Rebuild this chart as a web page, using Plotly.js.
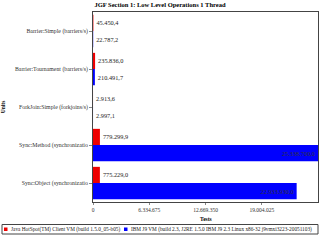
<!DOCTYPE html>
<html><head><meta charset="utf-8">
<script src="https://cdn.plot.ly/plotly-3.0.1.min.js"></script>
<style>html,body{margin:0;padding:0;background:#fff}#c{width:320px;height:240px}</style>
</head><body><div id="c"></div>
<script>
const categories = [
  "Barrier:Simple (barriers/s)",
  "Barrier:Tournament (barriers/s)",
  "ForkJoin:Simple (forkjoins/s)",
  "Sync:Method (synchronizatio",
  "Sync:Object (synchronizatio"
];
const seriesNames = [
  "Java HotSpot(TM) Client VM (build 1.5.0_05-b05)",
  "IBM J9 VM (build 2.3, J2RE 1.5.0 IBM J9 2.3 Linux x86-32 j9vmxi3223-20051103)"
];
const seriesColors = ['#ee0000', '#0000ff'];
const hotspot = [45450.4, 235836.0, 2913.6, 779299.9, 775229.0];
const ibm = [22787.2, 210491.7, 2997.1, 25338700.0, 22933930.0];
const tickValues = [0, 6334675, 12669350, 19004025];
const axisMax = 25338700;

const font = "'Liberation Serif', 'DejaVu Serif', serif";
const mk = (name, vals, color) => ({
  type: 'bar', orientation: 'h', name: name,
  y: categories, x: vals,
  marker: {color: color, line: {width: 0}},
  texttemplate: '%{x:,.1f}', textposition: 'auto',
  insidetextanchor: 'end', textangle: 0, constraintext: 'none',
  insidetextfont: {family: font, size: 6.3, color: '#333'},
  outsidetextfont: {family: font, size: 6.3, color: '#222'},
  cliponaxis: false, hoverinfo: 'none', showlegend: false
});
const data = [mk(seriesNames[0], hotspot, seriesColors[0]), mk(seriesNames[1], ibm, seriesColors[1])];

// plot area in pixels: x 93..318, y 12..202
const L = 93, R = 318, T = 12, B = 202;
const px = v => (v - L) / (R - L);
const py = v => (B - v) / (B - T);
const legendItems = [{sx: 4, tx: 9, size: 5.3}, {sx: 124, tx: 129, size: 5.3}];
const shapes = [{type: 'rect', xref: 'paper', yref: 'paper', x0: px(2), x1: px(318), y0: py(234), y1: py(224.5),
  line: {color: '#444', width: 1}, fillcolor: 'rgba(0,0,0,0)'}];
const annotations = [{xref: 'paper', yref: 'paper', x: px(205.5), y: py(219), xanchor: 'center', yanchor: 'middle',
  text: '<b>Tests</b>', showarrow: false, font: {family: font, size: 5.5, color: '#000'}}];
seriesNames.forEach((n, i) => {
  const it = legendItems[i];
  shapes.push({type: 'rect', xref: 'paper', yref: 'paper', x0: px(it.sx), x1: px(it.sx + 3.5), y0: py(231), y1: py(227.5),
    line: {width: 0}, fillcolor: seriesColors[i]});
  annotations.push({xref: 'paper', yref: 'paper', x: px(it.tx), y: py(229.3), xanchor: 'left', yanchor: 'middle',
    text: n, showarrow: false, font: {family: font, size: it.size, color: '#222'}});
});

const layout = {
  width: 320, height: 240,
  separators: ',.',
  margin: {l: L, r: 320 - R, t: T, b: 240 - B},
  paper_bgcolor: '#fff', plot_bgcolor: '#fff',
  font: {family: font, size: 5.5, color: '#222'},
  barmode: 'group', bargap: 0.15, bargroupgap: 0,
  title: {text: '<b>JGF Section 1: Low Level Operations 1 Thread</b>', x: 0.5, xref: 'container', y: 0.99, yanchor: 'top', font: {family: font, size: 6.5, color: '#000'}},
  xaxis: {range: [0, axisMax], tickvals: tickValues, tickformat: ',d', ticks: 'outside', ticklen: 2, tickcolor: '#888',
    showgrid: false, zeroline: false, showline: true, linecolor: '#444', mirror: true,
    tickfont: {family: font, size: 5.5, color: '#333'}},
  yaxis: {autorange: 'reversed', ticks: 'outside', ticklen: 3, tickcolor: '#888',
    showline: true, linecolor: '#444', mirror: true, showgrid: false,
    tickfont: {family: font, size: 5.8, color: '#333'},
    title: {text: '<b>Units</b>', font: {family: font, size: 5.5, color: '#000'}, standoff: 72}},
  showlegend: false,
  shapes: shapes,
  annotations: annotations
};
Plotly.newPlot('c', data, layout, {staticPlot: true, displayModeBar: false});
</script></body></html>
